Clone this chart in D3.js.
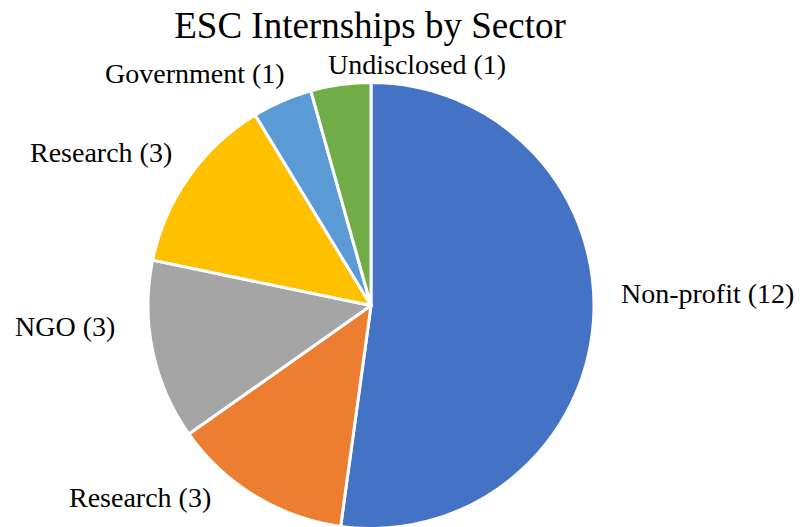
<!DOCTYPE html>
<html>
<head>
<meta charset="utf-8">
<script src="https://cdn.jsdelivr.net/npm/d3@7/dist/d3.min.js"></script>
<style>
  html, body { margin: 0; padding: 0; background: #fff; }
  svg { display: block; }
</style>
</head>
<body>
<svg id="chart" width="804" height="527" font-family="Liberation Serif"></svg>
<script>
// Sector breakdown of internships
const categories = ["Non-profit", "Research", "NGO", "Research", "Government", "Undisclosed"];
const counts = [12, 3, 3, 3, 1, 1];
const colors = ["#4472C4", "#ED7D31", "#A5A5A5", "#FFC000", "#5B9BD5", "#70AD47"];
const title = "ESC Internships by Sector";

// label anchor points (start x, baseline y) per slice
const labelPos = [[621, 303], [69, 507], [15, 336], [30, 162], [105, 83], [328, 74]];

const cx = 371, cy = 305.5, radius = 223;

const svg = d3.select("#chart");

const data = categories.map((c, i) => ({ name: c, value: counts[i], color: colors[i], i }));

const pie = d3.pie()
  .value(d => d.value)
  .sort(null)
  .startAngle(0)
  .endAngle(2 * Math.PI);

const arc = d3.arc().innerRadius(0).outerRadius(radius);

const g = svg.append("g").attr("transform", `translate(${cx},${cy})`);

g.selectAll("path")
  .data(pie(data))
  .join("path")
  .attr("d", arc)
  .attr("fill", d => d.data.color)
  .attr("stroke", "#fff")
  .attr("stroke-width", 3)
  .attr("stroke-linejoin", "round");

svg.append("text")
  .attr("x", 370)
  .attr("y", 38)
  .attr("text-anchor", "middle")
  .attr("font-family", "Liberation Serif")
  .attr("font-size", 37)
  .text(title);

data.forEach(d => {
  svg.append("text")
    .attr("x", labelPos[d.i][0])
    .attr("y", labelPos[d.i][1])
    .attr("font-family", "Liberation Serif")
    .attr("font-size", 28)
    .text(`${d.name} (${d.value})`);
});
</script>
</body>
</html>
